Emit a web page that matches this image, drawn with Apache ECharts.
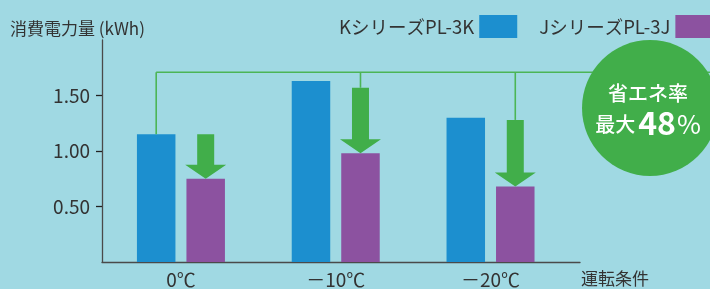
<!DOCTYPE html>
<html>
<head>
<meta charset="utf-8">
<script src="https://cdn.jsdelivr.net/npm/echarts@6/dist/echarts.min.js"></script>
<style>
  html, body { margin: 0; padding: 0; background: #a0d9e3; }
  #chart { width: 710px; height: 289px; }
</style>
</head>
<body>
<div id="chart"></div>
<script>
// 運転条件ごとの消費電力量 (K vs J series)
const categories = ['0℃', '－10℃', '－20℃']
const kValues = [1.15, 1.63, 1.30]
const jValues = [0.75, 0.98, 0.68]
// arrows run from arrowTop down to the J bar top
const arrowTop = [1.15, 1.57, 1.28]
// bracket line level and where each drop lands
const bracketLevel = 1.71
const dropSide = ['K', 'J', 'J']
const dropValue = [1.15, 1.57, 1.28]
const yTicks = [0.5, 1.0, 1.5]
const seriesNames = ['KシリーズPL-3K', 'JシリーズPL-3J']

const FONT = '"Noto Sans CJK JP", "Noto Sans", sans-serif'
const INK = '#333'
const AXIS = '#4a4a4a'
const BLUE = '#1c8fcf'
const PURPLE = '#8c52a0'
const GREEN = '#41ae4a'
const BAR_W = 38.5
const BAR_GAP = 11
const HALF = (BAR_W + BAR_GAP) / 2

const chart = echarts.init(document.getElementById('chart'), null, { renderer: 'canvas' })

const arrowData = categories.map((c, i) => [i, arrowTop[i], jValues[i]])
const bracketData = categories.map((c, i) => [i, dropValue[i], dropSide[i] === 'K' ? -1 : 1])

chart.setOption({
  animation: false,
  textStyle: { fontFamily: FONT },
  title: {
    text: '消費電力量 (kWh)', left: 5, top: 15,
    textStyle: { fontFamily: FONT, fontSize: 17, fontWeight: 'normal', color: INK },
  },
  legend: {
    left: 334, top: 10, width: 420, align: 'right', icon: 'rect',
    itemWidth: 38, itemHeight: 23, itemGap: 22,
    textStyle: { fontFamily: FONT, fontSize: 18.5, color: INK },
    data: seriesNames,
  },
  grid: { left: 102, right: 130, top: 40, bottom: 25, containLabel: false },
  xAxis: {
    type: 'value', min: -0.51, max: 2.578,
    name: '運転条件', nameLocation: 'end', nameGap: 1,
    nameTextStyle: { fontFamily: FONT, fontSize: 17, color: INK, align: 'left', verticalAlign: 'top', padding: [8, 0, 0, 0] },
    axisLine: { onZero: false, lineStyle: { color: AXIS, width: 1.3 } },
    axisTick: { show: false },
    splitLine: { show: false },
    axisLabel: {
      customValues: [0, 1, 2], margin: 8,
      fontFamily: FONT, fontSize: 19, color: INK,
      formatter: v => categories[Math.round(v)],
    },
  },
  yAxis: {
    type: 'value', min: 0, max: 2, interval: 0.5,
    axisLine: { show: true, onZero: false, lineStyle: { color: AXIS, width: 1.3 } },
    axisTick: { show: true, customValues: yTicks, length: 6, lineStyle: { color: '#222', width: 1.3 } },
    splitLine: { show: false },
    axisLabel: {
      customValues: yTicks, margin: 12,
      fontFamily: FONT, fontSize: 19, color: INK,
      formatter: v => v.toFixed(2),
    },
  },
  series: [
    {
      name: seriesNames[0], type: 'bar', barWidth: BAR_W, barGap: (BAR_GAP / BAR_W * 100) + '%',
      itemStyle: { color: BLUE },
      data: kValues.map((v, i) => [i, v]),
    },
    {
      name: seriesNames[1], type: 'bar', barWidth: BAR_W,
      itemStyle: { color: PURPLE },
      data: jValues.map((v, i) => [i, v]),
    },
    {
      // green bracket tying the bars to the savings badge
      type: 'custom', silent: true, z: 3,
      data: bracketData,
      renderItem: (params, api) => {
        const x = api.coord([api.value(0), 0])[0] + api.value(2) * HALF
        const yB = api.coord([0, bracketLevel])[1]
        const yT = api.coord([0, api.value(1)])[1]
        const children = [{
          type: 'line', shape: { x1: x, y1: yB, x2: x, y2: yT },
          style: { stroke: '#4cb556', lineWidth: 1.6 },
        }]
        if (params.dataIndex === 0) {
          children.push({
            type: 'line', shape: { x1: x, y1: yB, x2: api.getWidth(), y2: yB },
            style: { stroke: '#4cb556', lineWidth: 1.6 },
          })
        }
        return { type: 'group', children }
      },
    },
    {
      // down arrows onto the J bars
      type: 'custom', silent: true, z: 4,
      data: arrowData,
      renderItem: (params, api) => {
        const cx = api.coord([api.value(0), 0])[0] + HALF
        const yTop = api.coord([0, api.value(1)])[1]
        const yTip = api.coord([0, api.value(2)])[1]
        const sw = 8.5, hw = 20.5, hh = 14
        return {
          type: 'polygon',
          shape: { points: [
            [cx - sw, yTop], [cx + sw, yTop], [cx + sw, yTip - hh], [cx + hw, yTip - hh],
            [cx, yTip], [cx - hw, yTip - hh], [cx - sw, yTip - hh],
          ] },
          style: { fill: GREEN },
        }
      },
    },
  ],
  graphic: [
    {
      type: 'circle', z: 10, shape: { cx: 650, cy: 108, r: 68 },
      style: { fill: GREEN },
    },
    {
      type: 'text', z: 11, x: 648, y: 93,
      style: { text: '省エネ率', fill: '#fff', font: '500 20px ' + FONT, align: 'center', verticalAlign: 'middle' },
    },
    {
      type: 'text', z: 11, x: 648, y: 123,
      style: {
        text: '{a|最大}{b|48}{c|%}', fill: '#fff', align: 'center', verticalAlign: 'middle',
        rich: {
          a: { fontFamily: FONT, fontSize: 20, fontWeight: 500, fill: '#fff', padding: [3, 3, 0, 0] },
          b: { fontFamily: FONT, fontSize: 32, fontWeight: 'bold', fill: '#fff' },
          c: { fontFamily: FONT, fontSize: 26, fill: '#fff', padding: [2, 0, 0, 1] },
        },
      },
    },
  ],
})
</script>
</body>
</html>
